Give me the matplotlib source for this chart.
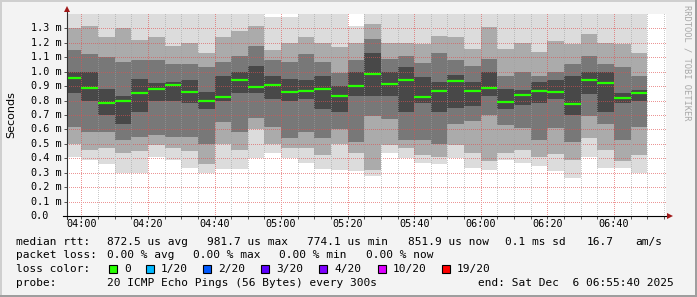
import matplotlib
matplotlib.use("Agg")
import matplotlib.pyplot as plt
from matplotlib.patches import Rectangle
from matplotlib.lines import Line2D
from matplotlib.colors import to_rgba
from matplotlib.transforms import blended_transform_factory
import numpy as np

W, H = 697, 297

# ---------------- data ----------------
# bar start times in minutes after midnight (5-minute steps, 03:55 .. 06:45)
bar_start = np.arange(235, 410, 5)

# median RTT per bar (ms)
median = [0.956, 0.884, 0.782, 0.800, 0.850, 0.880, 0.907, 0.856, 0.796, 0.828,
          0.940, 0.895, 0.910, 0.860, 0.868, 0.877, 0.833, 0.900, 0.9817, 0.914,
          0.940, 0.824, 0.866, 0.937, 0.866, 0.888, 0.787, 0.838, 0.868, 0.856,
          0.7741, 0.944, 0.925, 0.820, 0.8519]

# smoke band edges (ms): outer (lightest) -> inner (darkest)
lo1 = [0.41, 0.39, 0.36, 0.30, 0.30, 0.41, 0.39, 0.335, 0.30, 0.325,
       0.325, 0.405, 0.435, 0.405, 0.37, 0.325, 0.32, 0.31, 0.28, 0.44,
       0.405, 0.37, 0.36, 0.40, 0.33, 0.32, 0.39, 0.37, 0.35, 0.31,
       0.26, 0.41, 0.335, 0.335, 0.30]
lo2 = [0.50, 0.46, 0.47, 0.44, 0.45, 0.49, 0.47, 0.45, 0.36, 0.50,
       0.46, 0.60, 0.50, 0.47, 0.47, 0.42, 0.50, 0.44, 0.32, 0.49,
       0.47, 0.42, 0.41, 0.49, 0.44, 0.38, 0.44, 0.46, 0.41, 0.43,
       0.39, 0.54, 0.46, 0.38, 0.42]
lo3 = [0.62, 0.58, 0.58, 0.53, 0.55, 0.56, 0.55, 0.55, 0.50, 0.65,
       0.58, 0.68, 0.62, 0.54, 0.58, 0.54, 0.60, 0.51, 0.69, 0.67,
       0.53, 0.53, 0.50, 0.64, 0.66, 0.70, 0.63, 0.61, 0.53, 0.61,
       0.51, 0.69, 0.64, 0.53, 0.62]
lo4 = [0.85, 0.80, 0.70, 0.64, 0.72, 0.80, 0.80, 0.78, 0.74, 0.80,
       0.85, 0.85, 0.81, 0.80, 0.81, 0.74, 0.72, 0.83, 0.83, 0.83,
       0.72, 0.78, 0.72, 0.75, 0.76, 0.83, 0.74, 0.77, 0.78, 0.81,
       0.70, 0.845, 0.72, 0.78, 0.80]
hi4 = [1.00, 1.00, 0.88, 0.83, 0.95, 0.92, 0.93, 0.94, 0.86, 0.97,
       1.00, 1.04, 0.97, 0.95, 0.94, 0.97, 0.90, 1.00, 1.13, 1.00,
       1.03, 0.96, 0.93, 0.98, 0.93, 1.00, 0.88, 0.87, 0.93, 0.94,
       0.97, 0.995, 0.995, 0.85, 0.87]
hi3 = [1.15, 1.12, 1.10, 1.07, 1.08, 1.08, 1.05, 1.05, 1.03, 1.07,
       1.11, 1.18, 1.08, 1.07, 1.12, 1.065, 0.99, 1.08, 1.23, 1.09,
       1.11, 1.06, 1.13, 1.08, 1.04, 1.09, 0.97, 1.00, 0.97, 1.00,
       1.05, 1.11, 1.05, 1.03, 0.97]
hi2 = [1.30, 1.32, 1.24, 1.30, 1.22, 1.24, 1.18, 1.20, 1.13, 1.24,
       1.28, 1.32, 1.15, 1.20, 1.24, 1.20, 1.17, 1.20, 1.33, 1.20,
       1.20, 1.19, 1.25, 1.24, 1.16, 1.31, 1.16, 1.20, 1.14, 1.21,
       1.19, 1.26, 1.20, 1.19, 1.13]
hi1 = [1.45, 1.45, 1.45, 1.45, 1.45, 1.45, 1.45, 1.45, 1.45, 1.45,
       1.45, 1.45, 1.38, 1.38, 1.45, 1.45, 1.45, 1.32, 1.45, 1.45,
       1.45, 1.45, 1.45, 1.45, 1.45, 1.45, 1.45, 1.45, 1.45, 1.45,
       1.45, 1.45, 1.45, 1.45, 1.45]

y_ticks = [0.0, 0.1, 0.2, 0.3, 0.4, 0.5, 0.6, 0.7, 0.8, 0.9, 1.0, 1.1, 1.2, 1.3]
y_tick_labels = ["0.0", "0.1 m", "0.2 m", "0.3 m", "0.4 m", "0.5 m", "0.6 m",
                 "0.7 m", "0.8 m", "0.9 m", "1.0 m", "1.1 m", "1.2 m", "1.3 m"]
x_major = [240, 260, 280, 300, 320, 340, 360, 380, 400]
x_major_labels = ["04:00", "04:20", "04:40", "05:00", "05:20", "05:40",
                  "06:00", "06:20", "06:40"]

loss_labels = ["0", "1/20", "2/20", "3/20", "4/20", "10/20", "19/20"]
loss_colors = ["#26ff00", "#00b8ff", "#0059ff", "#5e00ff", "#7e00ff",
               "#dd00ff", "#ff0000"]

rtt_items = ["872.5 us avg", "981.7 us max", "774.1 us min", "851.9 us now",
             "0.1 ms sd", "16.7", "am/s"]
loss_items = ["0.00 % avg", "0.00 % max", "0.00 % min", "0.00 % now"]
probe_text = "20 ICMP Echo Pings (56 Bytes) every 300s"
end_text = "end: Sat Dec  6 06:55:40 2025"

# ---------------- figure ----------------
MONO = "DejaVu Sans Mono"
fig = plt.figure(figsize=(W / 100, H / 100), dpi=100)
fig.patch.set_facecolor("#f3f3f3")


def fx(x):
    return x / W


def fy(y):
    return 1 - y / H


# pixel-aligned plot area (image coords)
X0, X1, YT, YB = 67, 666, 14, 216
AW, AH = X1 - X0, YB - YT
rect = [fx(X0), fy(YB), AW / W, AH / H]
ax = fig.add_axes(rect, zorder=0)
ax.set_facecolor("white")
XMIN, XMAX = 235 + 40 / 60, 415 + 40 / 60
YMAX = 1.4
ax.set_xlim(XMIN, XMAX)
ax.set_ylim(0, YMAX)
for s in ax.spines.values():
    s.set_visible(False)

band_colors = ["#dcdcdc", "#ababab", "#787878", "#484848"]
edges_lo = [lo1, lo2, lo3, lo4]
edges_hi = [hi1, hi2, hi3, hi4]
for c, lo, hi in zip(band_colors, edges_lo, edges_hi):
    lo = np.array(lo)
    hi = np.array(hi)
    ax.bar(bar_start, hi - lo, bottom=lo, width=5, align="edge",
           color=c, linewidth=0, zorder=1)

# dotted grid as an unscaled pixel overlay (1 px on / 1 px off, like rrdtool)
grid = np.zeros((AH, AW, 4))
minor_rgba = to_rgba("#a0a0a0", 0.55)
major_rgba = to_rgba("#e05050", 0.6)
for v in y_ticks[1:]:
    r = int(round((YMAX - v) / YMAX * AH))
    if 0 <= r < AH:
        grid[r, 0::2] = major_rgba
for t in range(240, 416, 5):
    c = int(round((t - XMIN) / (XMAX - XMIN) * AW))
    if 0 <= c < AW:
        grid[0::2, c] = major_rgba if t in x_major else minor_rgba
fig.figimage(grid, xo=X0, yo=H - YB, origin="upper", zorder=1)

# overlay axes for the median lines (above the grid)
ax2 = fig.add_axes(rect, zorder=2)
ax2.set_xlim(XMIN, XMAX)
ax2.set_ylim(0, YMAX)
ax2.patch.set_alpha(0)
ax2.axis("off")
ax2.hlines(median, bar_start, bar_start + 5, colors=loss_colors[0], lw=1.6)

# ticks
ax.set_xticks(x_major)
ax.set_xticks(list(range(240, 416, 5)), minor=True)
ax.set_yticks(y_ticks)
ax.tick_params(which="both", direction="out", length=2, width=0.7,
               color="#505050", labelbottom=False, labelleft=False)

# tick labels
tr_y = blended_transform_factory(fig.transFigure, ax.transData)
for v, lab in zip(y_ticks, y_tick_labels):
    ax.text(fx(30.5), v, lab, transform=tr_y, ha="left", va="center",
            fontsize=7.3, family=MONO, color="#000000")
tr_x = blended_transform_factory(ax.transData, fig.transFigure)
for t, lab in zip(x_major, x_major_labels):
    ax.text(t, fy(224.3), lab, transform=tr_x, ha="center", va="center",
            fontsize=7.3, family=MONO, color="#000000", clip_on=False)

# axes lines with arrows
fig.add_artist(Line2D([fx(66.5), fx(66.5)], [fy(218.5), fy(10)],
                      color="#303030", lw=0.8, zorder=3))
fig.add_artist(Line2D([fx(63), fx(668)], [fy(215.5), fy(215.5)],
                      color="#000000", lw=0.8, zorder=3))
fig.add_artist(Line2D([fx(66.5)], [fy(9)], marker="^", markersize=4.2,
                      color="#a01818", markeredgewidth=0, zorder=3))
fig.add_artist(Line2D([fx(670)], [fy(215.5)], marker=">", markersize=4.2,
                      color="#a01818", markeredgewidth=0, zorder=3))

# y axis title
fig.text(fx(11), fy(114.5), "Seconds", rotation=90, ha="center", va="center",
         fontsize=8, family="DejaVu Sans", color="#000000")

# watermark
fig.text(fx(687.5), fy(5), "RRDTOOL / TOBI OETIKER", rotation=270,
         ha="center", va="top", fontsize=6.3, family=MONO, color="#a8a8a8")

# legend lines
FS = 8
L1, L2, L3, L4 = 241.7, 255.0, 269.3, 283.3
fig.text(fx(16), fy(L1), "median rtt:", ha="left", va="center",
         fontsize=FS, family=MONO)
for txt, x in zip(rtt_items, [107, 207.3, 307, 407.7, 505, 586.7, 635.7]):
    fig.text(fx(x), fy(L1), txt, ha="left", va="center", fontsize=FS,
             family=MONO)
fig.text(fx(16), fy(L2), "packet loss:", ha="left", va="center",
         fontsize=FS, family=MONO)
for txt, x in zip(loss_items, [107, 193.3, 279.3, 365.7]):
    fig.text(fx(x), fy(L2), txt, ha="left", va="center", fontsize=FS,
             family=MONO)
fig.text(fx(16), fy(L3), "loss color:", ha="left", va="center",
         fontsize=FS, family=MONO)
sq_x = [108.7, 146, 203.3, 261, 319.3, 377.7, 442.3]
lab_x = [124, 160.7, 218.3, 276, 334.3, 392.3, 456.7]
for lab, col, sx, lx in zip(loss_labels, loss_colors, sq_x, lab_x):
    fig.add_artist(Rectangle((fx(sx), fy(L3 + 4)), 8 / W, 8 / H,
                             transform=fig.transFigure, facecolor=col,
                             edgecolor="#000000", lw=0.8))
    fig.text(fx(lx), fy(L3), lab, ha="left", va="center", fontsize=FS,
             family=MONO)
fig.text(fx(16), fy(L4), "probe:", ha="left", va="center", fontsize=FS,
         family=MONO)
fig.text(fx(107), fy(L4), probe_text, ha="left", va="center", fontsize=FS,
         family=MONO)
fig.text(fx(478.3), fy(L4), end_text, ha="left", va="center", fontsize=FS,
         family=MONO)

# 3D-ish frame
fig.add_artist(Rectangle((0, fy(2)), 1, 2 / H, transform=fig.transFigure,
                         facecolor="#cfcfcf", lw=0, zorder=4))
fig.add_artist(Rectangle((0, 0), 2 / W, 1, transform=fig.transFigure,
                         facecolor="#cfcfcf", lw=0, zorder=4))
fig.add_artist(Rectangle((0, 0), 1, 2 / H, transform=fig.transFigure,
                         facecolor="#9e9e9e", lw=0, zorder=4))
fig.add_artist(Rectangle((fx(W - 2), 0), 2 / W, 1, transform=fig.transFigure,
                         facecolor="#9e9e9e", lw=0, zorder=4))

fig.savefig("out.png", dpi=100, facecolor=fig.get_facecolor())
